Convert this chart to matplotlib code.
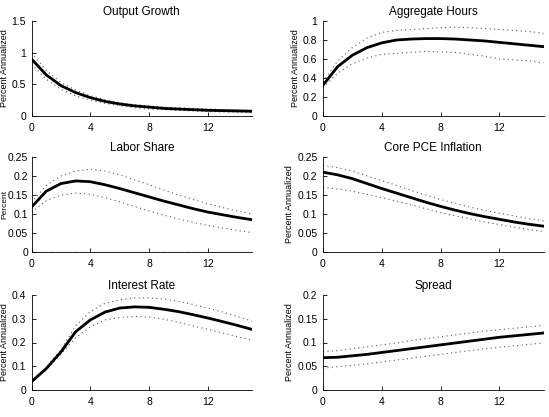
import matplotlib
matplotlib.use("Agg")
import matplotlib.pyplot as plt

plt.rcParams['font.family'] = ['Liberation Sans', 'DejaVu Sans']

h = list(range(16))

titles = ['Output Growth', 'Aggregate Hours', 'Labor Share',
          'Core PCE Inflation', 'Interest Rate', 'Spread']
ylabels = ['Percent Annualized', 'Percent Annualized', 'Percent',
           'Percent Annualized', 'Percent Annualized', 'Percent Annualized']

out_mid = [0.90, 0.65, 0.48, 0.37, 0.29, 0.23, 0.19, 0.16, 0.14, 0.12, 0.11, 0.10, 0.09, 0.085, 0.08, 0.075]
out_hi = [1.00, 0.72, 0.53, 0.41, 0.32, 0.26, 0.21, 0.18, 0.16, 0.14, 0.13, 0.12, 0.11, 0.10, 0.095, 0.09]
out_lo = [0.82, 0.58, 0.42, 0.32, 0.25, 0.20, 0.16, 0.13, 0.11, 0.10, 0.09, 0.08, 0.07, 0.065, 0.06, 0.055]

hrs_mid = [0.325, 0.52, 0.64, 0.72, 0.77, 0.80, 0.81, 0.815, 0.815, 0.81, 0.80, 0.79, 0.775, 0.76, 0.745, 0.73]
hrs_hi = [0.36, 0.58, 0.72, 0.82, 0.88, 0.90, 0.91, 0.92, 0.93, 0.935, 0.93, 0.92, 0.91, 0.90, 0.89, 0.87]
hrs_lo = [0.30, 0.45, 0.55, 0.61, 0.65, 0.66, 0.67, 0.68, 0.675, 0.67, 0.65, 0.63, 0.60, 0.59, 0.58, 0.56]

ls_mid = [0.118, 0.160, 0.180, 0.187, 0.185, 0.177, 0.167, 0.156, 0.145, 0.134, 0.124, 0.114, 0.105, 0.098, 0.091, 0.085]
ls_hi = [0.13, 0.175, 0.20, 0.213, 0.218, 0.213, 0.203, 0.190, 0.177, 0.163, 0.150, 0.138, 0.127, 0.117, 0.108, 0.100]
ls_lo = [0.105, 0.135, 0.150, 0.155, 0.152, 0.143, 0.132, 0.120, 0.108, 0.097, 0.087, 0.078, 0.070, 0.063, 0.057, 0.051]

pce_mid = [0.21, 0.203, 0.193, 0.180, 0.167, 0.155, 0.143, 0.131, 0.120, 0.110, 0.101, 0.093, 0.086, 0.079, 0.073, 0.068]
pce_hi = [0.228, 0.222, 0.213, 0.200, 0.188, 0.175, 0.162, 0.150, 0.138, 0.128, 0.118, 0.110, 0.102, 0.095, 0.088, 0.082]
pce_lo = [0.17, 0.166, 0.160, 0.152, 0.143, 0.134, 0.124, 0.114, 0.104, 0.095, 0.087, 0.079, 0.072, 0.065, 0.059, 0.054]

ir_mid = [0.035, 0.09, 0.16, 0.245, 0.295, 0.328, 0.345, 0.35, 0.348, 0.34, 0.33, 0.317, 0.303, 0.288, 0.272, 0.255]
ir_hi = [0.04, 0.095, 0.17, 0.27, 0.33, 0.365, 0.38, 0.388, 0.388, 0.383, 0.373, 0.36, 0.345, 0.328, 0.31, 0.29]
ir_lo = [0.03, 0.085, 0.15, 0.22, 0.265, 0.295, 0.305, 0.31, 0.307, 0.298, 0.285, 0.27, 0.255, 0.24, 0.225, 0.21]

spr_mid = [0.068, 0.069, 0.072, 0.075, 0.079, 0.083, 0.087, 0.091, 0.095, 0.099, 0.103, 0.107, 0.111, 0.114, 0.117, 0.120]
spr_hi = [0.081, 0.083, 0.087, 0.091, 0.095, 0.099, 0.104, 0.108, 0.112, 0.116, 0.120, 0.124, 0.127, 0.130, 0.133, 0.136]
spr_lo = [0.046, 0.049, 0.052, 0.055, 0.059, 0.063, 0.067, 0.071, 0.075, 0.079, 0.083, 0.087, 0.090, 0.093, 0.096, 0.099]

mids = [out_mid, hrs_mid, ls_mid, pce_mid, ir_mid, spr_mid]
his = [out_hi, hrs_hi, ls_hi, pce_hi, ir_hi, spr_hi]
los = [out_lo, hrs_lo, ls_lo, pce_lo, ir_lo, spr_lo]

yticks = [[0, 0.5, 1, 1.5],
          [0, 0.2, 0.4, 0.6, 0.8, 1],
          [0, 0.05, 0.1, 0.15, 0.2, 0.25],
          [0, 0.05, 0.1, 0.15, 0.2, 0.25],
          [0, 0.1, 0.2, 0.3, 0.4],
          [0, 0.05, 0.1, 0.15, 0.2]]
yticklabels = [['0', '0.5', '1', '1.5'],
               ['0', '0.2', '0.4', '0.6', '0.8', '1'],
               ['0', '0.05', '0.1', '0.15', '0.2', '0.25'],
               ['0', '0.05', '0.1', '0.15', '0.2', '0.25'],
               ['0', '0.1', '0.2', '0.3', '0.4'],
               ['0', '0.05', '0.1', '0.15', '0.2']]

fig = plt.figure(figsize=(5.49, 4.17), dpi=100)
W, H = 549.0, 417.0
lefts = [31.5, 323]
width = 220.5
tops = [21, 157, 295]
height = 95

for i in range(6):
    r, c = i // 2, i % 2
    ax = fig.add_axes([lefts[c] / W, 1 - (tops[r] + height) / H, width / W, height / H])
    ax.plot(h, his[i], color='0.35', linestyle=(0, (1, 3)), linewidth=0.8)
    ax.plot(h, los[i], color='0.35', linestyle=(0, (1, 3)), linewidth=0.8)
    ax.plot(h, mids[i], color='k', linewidth=2.0)
    if i == 2:
        ax.axhline(0, color='k', linestyle='--', linewidth=0.8)
    ax.set_xlim(0, 15)
    ax.set_ylim(yticks[i][0], yticks[i][-1])
    ax.set_xticks([0, 4, 8, 12])
    ax.set_yticks(yticks[i])
    ax.set_yticklabels(yticklabels[i])
    ax.spines['top'].set_visible(False)
    ax.spines['right'].set_visible(False)
    ax.spines['left'].set_linewidth(0.6)
    ax.spines['bottom'].set_linewidth(0.6)
    ax.tick_params(direction='in', length=3, width=0.6, labelsize=7.5)
    ax.tick_params(axis='y', pad=4)
    ax.tick_params(axis='x', pad=5)
    ax.set_title(titles[i], fontsize=8.5, pad=4)
    if i == 2:
        ax.tick_params(axis='y', pad=2.5)
        ax.set_ylabel(ylabels[i], fontsize=6)
        ax.yaxis.set_label_coords(-0.106, 0.5)
    else:
        ax.set_ylabel(ylabels[i], fontsize=6.5, labelpad=2)

fig.savefig('out.png', dpi=100)
